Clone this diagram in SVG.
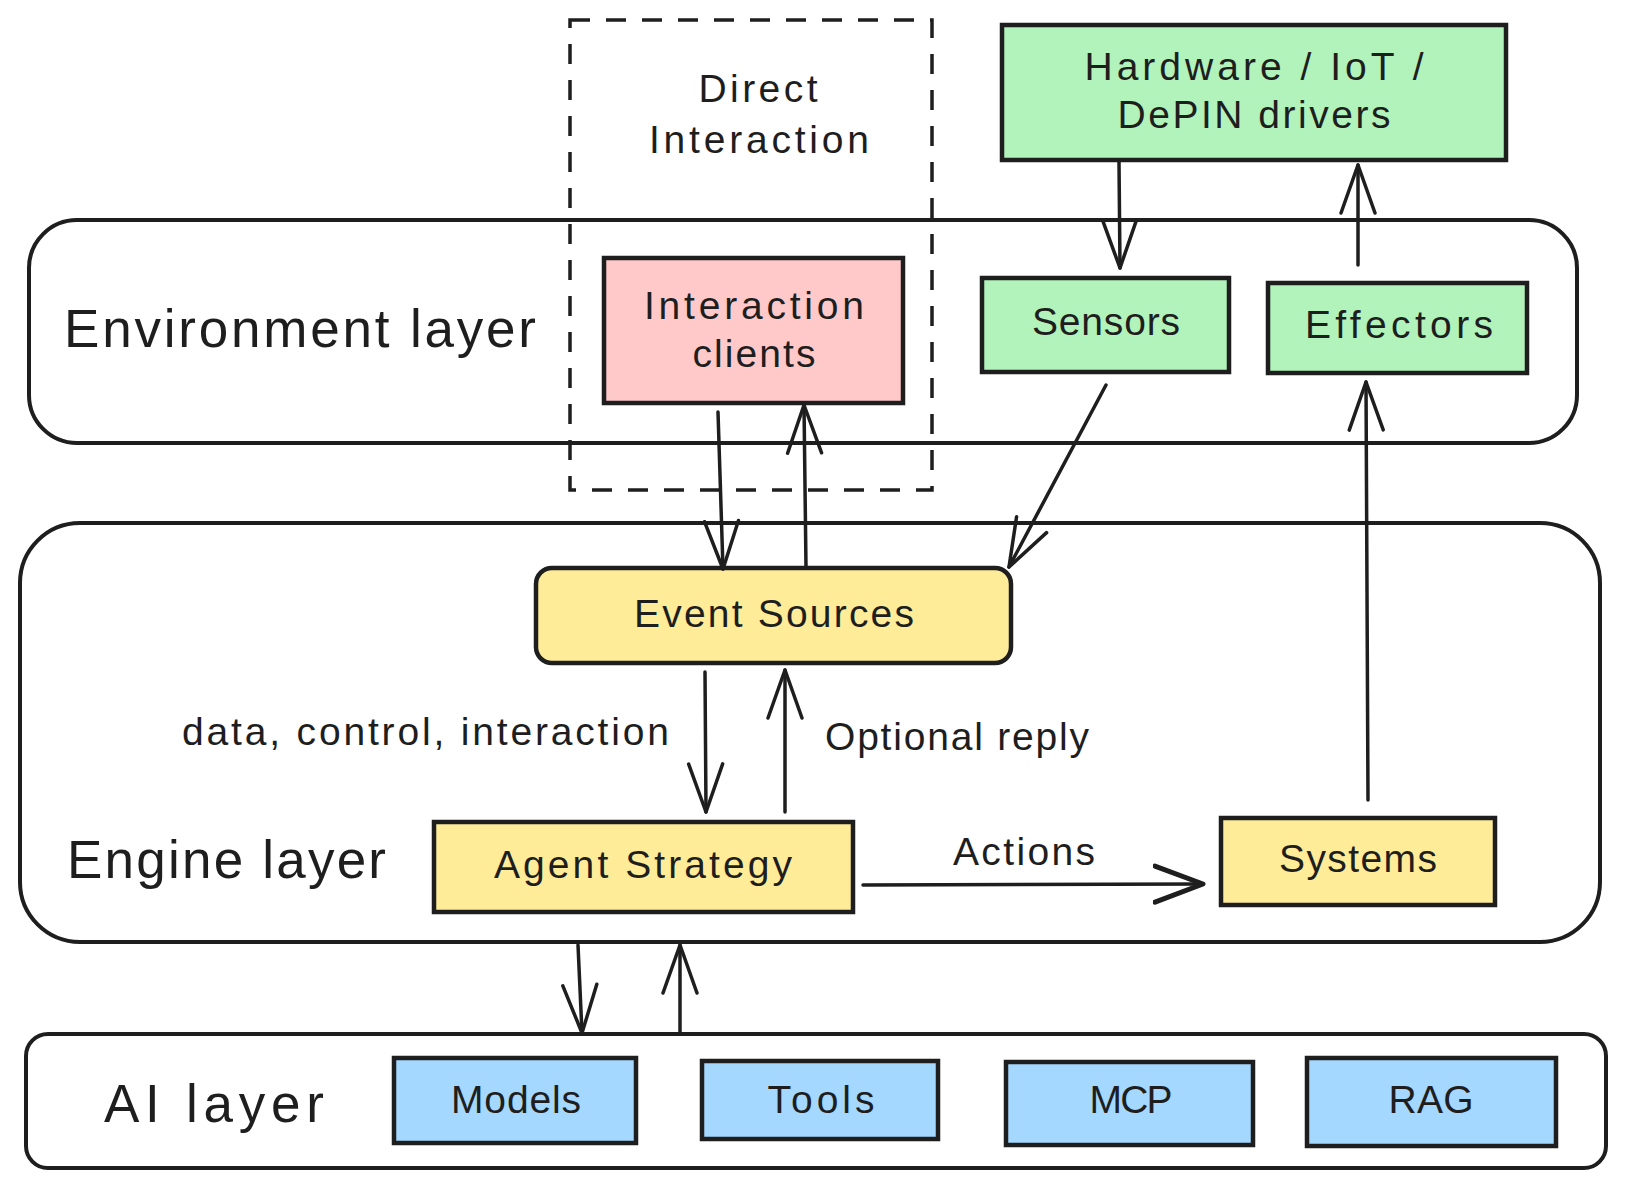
<svg xmlns="http://www.w3.org/2000/svg" width="1626" height="1188" viewBox="0 0 1626 1188">
<defs>
<style>
.layer{fill:none;stroke:#1e1e1e;stroke-width:4}
.node{stroke:#1e1e1e;stroke-width:4.5}
.pink{fill:#ffc9c9}.green{fill:#b2f2bb}.yellow{fill:#ffec99}.blue{fill:#a5d8ff}
.t{font-family:"Liberation Sans",Arial,sans-serif;font-size:39px;fill:#1e1e1e;text-anchor:middle}
.big{font-family:"Liberation Sans",Arial,sans-serif;font-size:53px;fill:#1e1e1e}
.lbl{font-family:"Liberation Sans",Arial,sans-serif;font-size:39px;fill:#1e1e1e}
.c{fill:none;stroke:#1e1e1e;stroke-width:3.5;stroke-linecap:round}
</style>
<marker id="ah" viewBox="0 0 60 40" markerWidth="60" markerHeight="40" refX="50" refY="20" orient="auto" markerUnits="userSpaceOnUse">
<path d="M2 3 L50 20 L2 37" fill="none" stroke="#1e1e1e" stroke-width="3.5" stroke-linecap="round" stroke-linejoin="round"/>
</marker>
<marker id="ah2" viewBox="0 0 60 44" markerWidth="60" markerHeight="44" refX="50" refY="22" orient="auto" markerUnits="userSpaceOnUse">
<path d="M2 4 L50 22 L2 40" fill="none" stroke="#1e1e1e" stroke-width="5" stroke-linecap="round" stroke-linejoin="round"/>
</marker>
</defs>
<rect width="1626" height="1188" fill="#ffffff"/>

<g id="environment-layer">
<rect class="layer" x="29" y="220" width="1548" height="223" rx="48"/>
<text class="big" x="64" y="347" textLength="472">Environment layer</text>
</g>
<g id="engine-layer">
<rect class="layer" x="20" y="523" width="1580" height="419" rx="60"/>
<text class="big" x="67" y="878" textLength="319">Engine layer</text>
</g>
<g id="ai-layer">
<rect class="layer" x="26" y="1034" width="1580" height="134" rx="22"/>
<text class="big" x="104" y="1122" textLength="220">AI layer</text>
</g>

<g id="direct-interaction">
<rect x="570" y="20" width="362" height="470" fill="none" stroke="#1e1e1e" stroke-width="3.5" stroke-dasharray="20 16"/>
<text class="t" x="758" y="102" textLength="119">Direct</text>
<text class="t" x="759" y="153" textLength="220">Interaction</text>
</g>

<g id="interaction-clients">
<rect class="node pink" x="604" y="258" width="299" height="145"/>
<text class="t" x="754" y="319" textLength="220">Interaction</text>
<text class="t" x="754" y="367" textLength="123">clients</text>
</g>

<g id="hardware">
<rect class="node green" x="1002" y="25" width="504" height="135"/>
<text class="t" x="1254" y="80" textLength="339">Hardware / IoT /</text>
<text class="t" x="1254" y="128" textLength="273">DePIN drivers</text>
</g>

<g id="sensors">
<rect class="node green" x="982" y="278" width="247" height="94"/>
<text class="t" x="1106" y="335" textLength="148">Sensors</text>
</g>

<g id="effectors">
<rect class="node green" x="1268" y="283" width="259" height="90"/>
<text class="t" x="1399" y="338" textLength="188">Effectors</text>
</g>

<g id="event-sources">
<rect class="node yellow" x="536" y="568" width="475" height="95" rx="16"/>
<text class="t" x="774" y="627" textLength="280">Event Sources</text>
</g>

<g id="agent-strategy">
<rect class="node yellow" x="434" y="822" width="419" height="90"/>
<text class="t" x="643" y="878" textLength="298">Agent Strategy</text>
</g>

<g id="systems">
<rect class="node yellow" x="1221" y="818" width="274" height="87"/>
<text class="t" x="1358" y="872" textLength="158">Systems</text>
</g>

<g id="models">
<rect class="node blue" x="394" y="1058" width="242" height="85"/>
<text class="t" x="516" y="1113" textLength="130">Models</text>
</g>
<g id="tools">
<rect class="node blue" x="702" y="1061" width="236" height="78"/>
<text class="t" x="821" y="1113" textLength="107">Tools</text>
</g>
<g id="mcp">
<rect class="node blue" x="1006" y="1062" width="247" height="83"/>
<text class="t" x="1131" y="1113" textLength="83">MCP</text>
</g>
<g id="rag">
<rect class="node blue" x="1307" y="1058" width="249" height="88"/>
<text class="t" x="1431" y="1113" textLength="85">RAG</text>
</g>

<g id="connectors">
<path class="c" d="M718 412 L723 569" marker-end="url(#ah)"/>
<path class="c" d="M806 567 L804 405" marker-end="url(#ah)"/>
<path class="c" d="M1119 162 L1120 268" marker-end="url(#ah)"/>
<path class="c" d="M1358 265 L1358 165" marker-end="url(#ah)"/>
<path class="c" d="M1106 385 L1009 567" marker-end="url(#ah)"/>
<path class="c" d="M1368 800 L1366 382" marker-end="url(#ah)"/>
<path class="c" d="M705 672 L706 812" marker-end="url(#ah)"/>
<path class="c" d="M785 812 L785 670" marker-end="url(#ah)"/>
<path class="c" d="M863 885 L1203 884" stroke-width="5" marker-end="url(#ah2)"/>
<path class="c" d="M578 945 L582 1033" marker-end="url(#ah)"/>
<path class="c" d="M680 1033 L680 945" marker-end="url(#ah)"/>
<text class="lbl" x="182" y="745" textLength="487">data, control, interaction</text>
<text class="lbl" x="825" y="750" textLength="264">Optional reply</text>
<text class="lbl" x="953" y="865" textLength="142">Actions</text>
</g>
</svg>
